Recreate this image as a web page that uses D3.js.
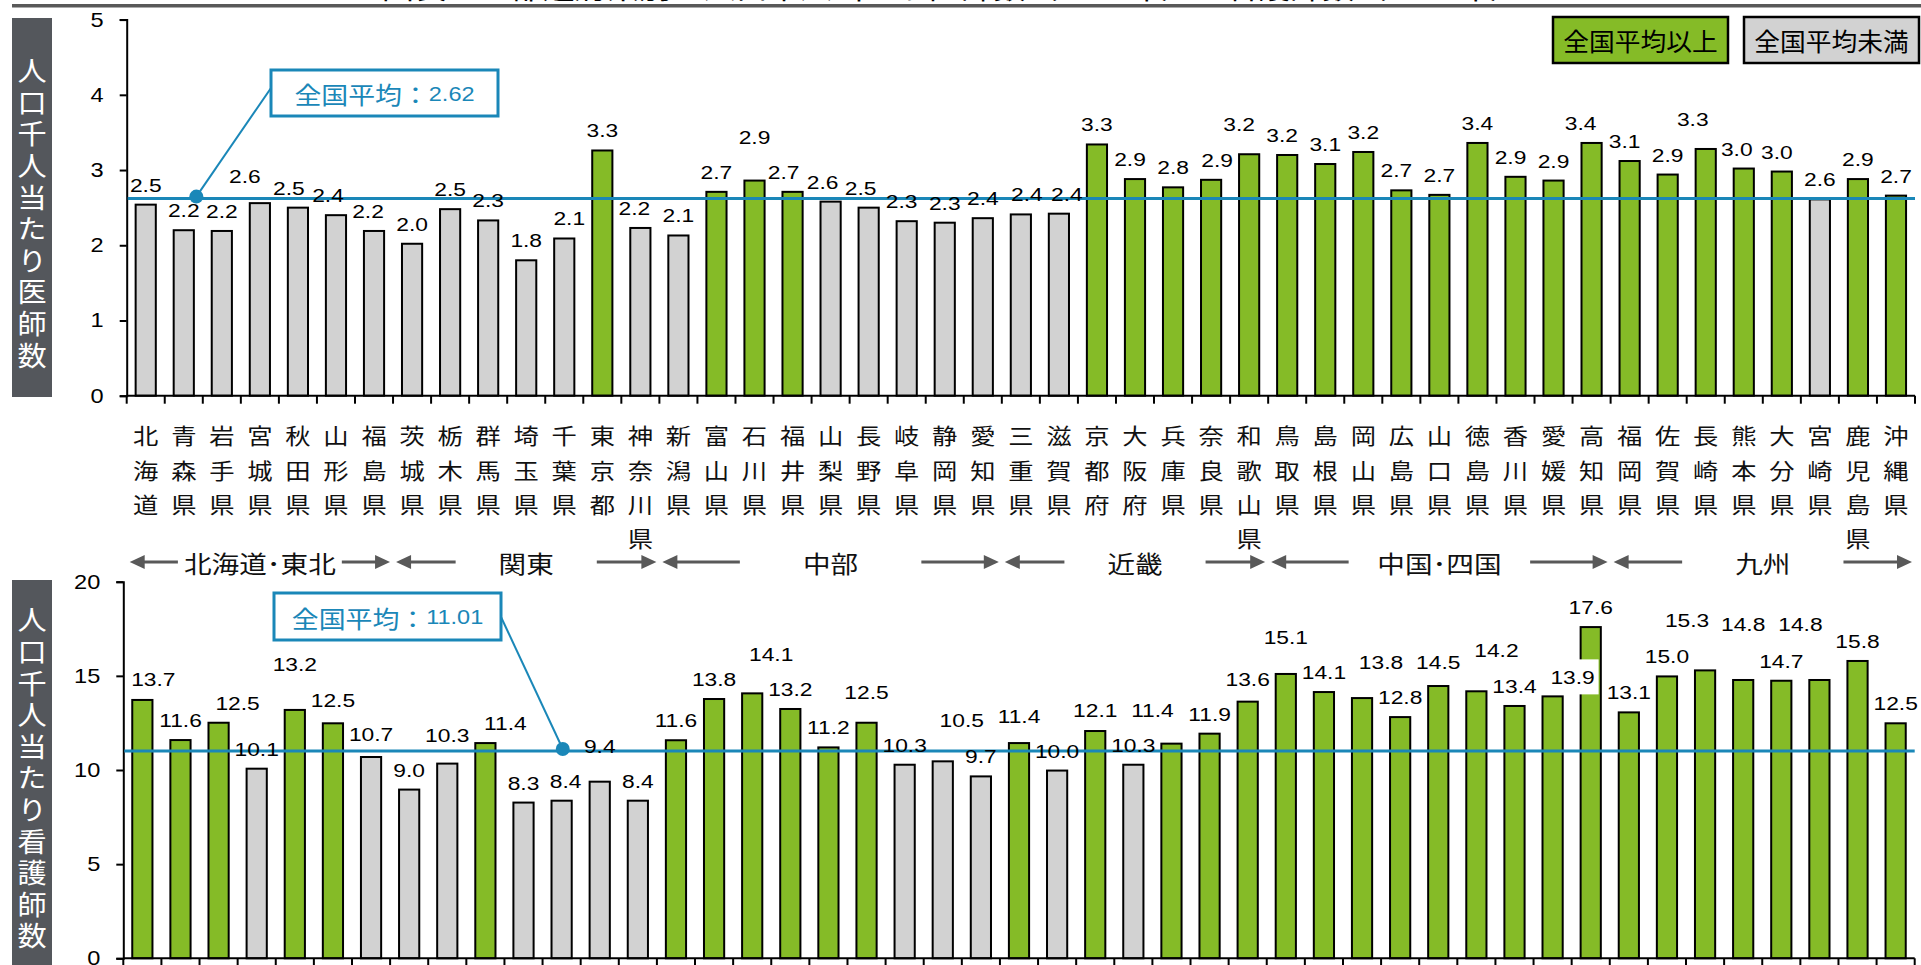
<!DOCTYPE html>
<html><head><meta charset="utf-8">
<script src="https://cdn.jsdelivr.net/npm/d3@7"></script>
<style>body{margin:0;background:#fff;} svg{display:block;}</style>
</head><body>
<script>
// ---------------- data ----------------
const prefectures = ["北海道","青森県","岩手県","宮城県","秋田県","山形県","福島県","茨城県","栃木県","群馬県","埼玉県","千葉県","東京都","神奈川県","新潟県","富山県","石川県","福井県","山梨県","長野県","岐阜県","静岡県","愛知県","三重県","滋賀県","京都府","大阪府","兵庫県","奈良県","和歌山県","鳥取県","島根県","岡山県","広島県","山口県","徳島県","香川県","愛媛県","高知県","福岡県","佐賀県","長崎県","熊本県","大分県","宮崎県","鹿児島県","沖縄県"];
const doctorValues = [2.54,2.20,2.19,2.56,2.50,2.40,2.19,2.02,2.48,2.33,1.80,2.09,3.26,2.23,2.13,2.71,2.86,2.71,2.58,2.50,2.32,2.30,2.36,2.41,2.42,3.34,2.88,2.77,2.87,3.21,3.20,3.08,3.24,2.73,2.67,3.36,2.91,2.86,3.36,3.12,2.94,3.28,3.02,2.98,2.61,2.88,2.66];
const nurseValues = [13.72,11.59,12.51,10.07,13.19,12.48,10.69,8.96,10.34,11.43,8.27,8.37,9.38,8.37,11.58,13.77,14.07,13.24,11.20,12.51,10.28,10.46,9.66,11.43,9.97,12.07,10.28,11.40,11.93,13.63,15.10,14.14,13.82,12.81,14.46,14.18,13.40,13.91,17.59,13.06,14.97,15.29,14.78,14.74,14.78,15.79,12.48];
const doctorAvg = 2.62;
const nurseAvg = 11.01;
const doctorTicks = [0,1,2,3,4,5];
const nurseTicks = [0,5,10,15,20];
const regionNames = ["北海道･東北","関東","中部","近畿","中国･四国","九州"];
const regionFirst = [0,7,14,23,30,39];
const regionLast = [6,13,22,29,38,46];
const legendLabels = ["全国平均以上","全国平均未満"];
const doctorTitle = "人口千人当たり医師数";
const nurseTitle = "人口千人当たり看護師数";
const avgPrefix = "全国平均：";
const pageTitle = "図表２　都道府県別の人口千人当たり医師数（2018年）と看護師数（2018年）";

// ---------------- layout / style ----------------
const W = 1921, H = 965;
const GREEN = "#85bb27", GRAY = "#d2d2d2", BLUE = "#1a87b8", DARK = "#595959";
const NUM_FONT = "'Liberation Sans', Arial, sans-serif";
const JP_FONT = "'Noto Sans CJK JP', 'Noto Sans', sans-serif";
// label nudges [dx, dy] (manual label placement in the original)
const doctorLabelNudge = {"宮城県":[-15,-7],"秋田県":[-9,0],"山形県":[-8,0],"福島県":[-6,0],"千葉県":[5,0],"神奈川県":[-6,0],"石川県":[0,-24],"福井県":[-9,0],"山梨県":[-8,0],"長野県":[-8,0],"岐阜県":[-5,0],"三重県":[6,0],"滋賀県":[8,0],"大阪府":[-5,0],"奈良県":[6,0],"和歌山県":[-10,-10],"鳥取県":[-5,0],"広島県":[-5,0],"香川県":[-5,0],"高知県":[-11,0],"福岡県":[-5,0],"長崎県":[-13,-10],"熊本県":[-7,0],"大分県":[-5,0]};
const nurseLabelNudge = {"北海道":[11,-1],"岩手県":[19,0],"秋田県":[0,-26],"山形県":[0,-3],"福島県":[0,-3],"栃木県":[0,-9],"群馬県":[20,0],"千葉県":[4,0],"東京都":[0,-16],"石川県":[19,-19],"長野県":[0,-11],"静岡県":[19,-21],"三重県":[0,-7],"京都府":[0,-1],"兵庫県":[-19,-14],"和歌山県":[0,-3],"鳥取県":[0,-17],"岡山県":[19,-16],"山口県":[0,-4],"徳島県":[20,-21],"愛媛県":[20,1],"長崎県":[-18,-30],"熊本県":[0,-36],"宮崎県":[-19,-36]};
const nurseLabelBg = {"愛媛県":true};

const svg = d3.select("body").append("svg").attr("width", W).attr("height", H)
  .style("font-family", NUM_FONT);

function stext(g, x, y, str, o) {
  o = o || {};
  return g.append("text")
    .attr("transform", `translate(${x},${y}) scale(${o.sx || 1},1)`)
    .attr("text-anchor", o.anchor || "middle")
    .attr("font-family", o.font || NUM_FONT)
    .attr("font-size", o.size || 19)
    .attr("fill", o.fill || "#000")
    .attr("dominant-baseline", o.baseline || "auto")
    .text(str);
}

// title strip (mostly cut off in the original)
stext(svg, 952, -1, pageTitle, {font: JP_FONT, size: 28, sx: 1.15});
svg.append("rect").attr("x", 12).attr("y", 4).attr("width", W - 12).attr("height", 3.5).attr("fill", DARK);

function panel(cfg) {
  const g = svg.append("g");
  const x = d3.scaleBand().domain(prefectures).range([cfg.x0, cfg.x1]).paddingInner(0.47).paddingOuter(0.235);
  const y = d3.scaleLinear().domain([0, cfg.ticks[cfg.ticks.length - 1]]).range([cfg.yBottom, cfg.yTop]);
  const step = x.step();
  const start = x.range()[0];

  // y title box with vertical text
  g.append("rect").attr("x", 12).attr("y", cfg.boxTop).attr("width", 40).attr("height", cfg.boxBottom - cfg.boxTop)
    .attr("fill", "#54575c");
  g.append("text")
    .attr("transform", `translate(32,${(cfg.boxTop + cfg.boxBottom) / 2 + 8}) scale(1.08,1)`)
    .attr("writing-mode", "vertical-rl")
    .attr("text-anchor", "middle")
    .attr("font-family", JP_FONT).attr("font-size", 27)
    .attr("letter-spacing", 4.6)
    .attr("fill", "#fff")
    .text(cfg.title);

  // bars
  g.selectAll("rect.bar").data(cfg.values).enter().append("rect").attr("class", "bar")
    .attr("x", (d, i) => x(prefectures[i]))
    .attr("width", x.bandwidth())
    .attr("y", d => y(d))
    .attr("height", d => y(0) - y(d))
    .attr("fill", d => d >= cfg.avg ? GREEN : GRAY)
    .attr("stroke", "#000").attr("stroke-width", 2);

  // y axis
  const ax = g.append("g").attr("transform", `translate(${cfg.x0},0)`)
    .call(d3.axisLeft(y).tickValues(cfg.ticks).tickSize(7).tickPadding(16).tickFormat(d3.format("d")));
  ax.select(".domain").attr("stroke", "#000").attr("stroke-width", 2);
  ax.selectAll(".tick line").attr("stroke", "#000").attr("stroke-width", 2);
  ax.selectAll(".tick text").attr("font-size", 20).attr("font-family", NUM_FONT).attr("fill", "#000")
    .attr("x", -23 / 1.18).attr("transform", "scale(1.18,1)");

  // x axis baseline + ticks at category boundaries
  g.append("line").attr("x1", cfg.x0).attr("x2", cfg.x1).attr("y1", y(0)).attr("y2", y(0))
    .attr("stroke", "#000").attr("stroke-width", 2);
  g.selectAll("line.xt").data(d3.range(prefectures.length + 1)).enter().append("line").attr("class", "xt")
    .attr("x1", i => start + i * step).attr("x2", i => start + i * step)
    .attr("y1", y(0)).attr("y2", y(0) + 8).attr("stroke", "#000").attr("stroke-width", 2);

  // average line
  g.append("line").attr("x1", cfg.x0 + 1).attr("x2", cfg.x1).attr("y1", y(cfg.avg)).attr("y2", y(cfg.avg))
    .attr("stroke", BLUE).attr("stroke-width", 3);

  // value labels
  cfg.values.forEach((v, i) => {
    const p = prefectures[i];
    const n = cfg.nudge[p] || [0, 0];
    const cx = x(p) + x.bandwidth() / 2 + n[0];
    const by = y(v) - 13 + n[1];
    if (cfg.bg && cfg.bg[p]) {
      g.append("rect").attr("x", cx - 26).attr("y", by - 25).attr("width", 52).attr("height", 35).attr("fill", "#fff");
    }
    stext(g, cx, by, v.toFixed(1), {size: 19, sx: 1.2});
  });

  // callout
  const dotX = start + cfg.dotPos * step, dotY = y(cfg.avg) - 2;
  g.append("line").attr("x1", cfg.leadX).attr("y1", cfg.leadY).attr("x2", dotX).attr("y2", dotY)
    .attr("stroke", BLUE).attr("stroke-width", 2);
  g.append("circle").attr("cx", dotX).attr("cy", dotY).attr("r", 7).attr("fill", BLUE);
  g.append("rect").attr("x", cfg.cb[0]).attr("y", cfg.cb[1]).attr("width", cfg.cb[2]).attr("height", cfg.cb[3])
    .attr("fill", "#fff").attr("stroke", BLUE).attr("stroke-width", 3);
  const t = g.append("text")
    .attr("transform", `translate(${cfg.cb[0] + cfg.cb[2] / 2},${cfg.cb[1] + cfg.cb[3] / 2}) scale(1.12,1)`)
    .attr("text-anchor", "middle").attr("dominant-baseline", "central").attr("fill", BLUE);
  t.append("tspan").attr("font-family", JP_FONT).attr("font-size", 24).text(avgPrefix);
  t.append("tspan").attr("font-family", NUM_FONT).attr("font-size", 21).text(cfg.avg.toFixed(2));

  return {x, y, step, start};
}

const topPanel = panel({x0: 126.7, x1: 1915, yTop: 19.6, yBottom: 395.7, ticks: doctorTicks, values: doctorValues,
  avg: doctorAvg, title: doctorTitle, boxTop: 18, boxBottom: 397, nudge: doctorLabelNudge,
  dotPos: 1.83, cb: [271, 70, 227, 46], leadX: 271, leadY: 88});

const bottomPanel = panel({x0: 123.3, x1: 1914.7, yTop: 581.7, yBottom: 958.3, ticks: nurseTicks, values: nurseValues,
  avg: nurseAvg, title: nurseTitle, boxTop: 580, boxBottom: 965, nudge: nurseLabelNudge, bg: nurseLabelBg,
  dotPos: 11.53, cb: [274, 593, 227, 47], leadX: 501, leadY: 617});

// category labels (vertical, under top chart)
const catG = svg.append("g");
prefectures.forEach(p => {
  const cx = topPanel.x(p) + topPanel.x.bandwidth() / 2;
  p.split("").forEach((c, j) => stext(catG, cx, 435 + 34.3 * j, c, {font: JP_FONT, size: 22, sx: 1.15, baseline: "central", fill: "#111"}));
});

// region labels with arrows
const regG = svg.append("g");
const ry = 562;
function arrow(x1, x2) { // x2 is the tip
  const dir = Math.sign(x2 - x1);
  regG.append("line").attr("x1", x1).attr("x2", x2 - dir * 12).attr("y1", ry).attr("y2", ry)
    .attr("stroke", DARK).attr("stroke-width", 3);
  regG.append("path").attr("d", `M${x2},${ry} L${x2 - dir * 15},${ry - 7} L${x2 - dir * 15},${ry + 7} Z`).attr("fill", DARK);
}
regionNames.forEach((name, k) => {
  const left = topPanel.start + regionFirst[k] * topPanel.step;
  const right = topPanel.start + (regionLast[k] + 1) * topPanel.step;
  const cx = (left + right) / 2;
  const txt = stext(regG, cx, ry, name, {font: JP_FONT, size: 24, sx: 1.15, baseline: "central", fill: "#111"});
  const tw = txt.node().getBBox().width * 1.15;
  const w = right - left;
  const len = Math.min(w * 0.235, (w - tw) / 2 - 6);
  arrow(left + len, left + 3);
  arrow(right - len, right - 3);
});

// legend
const legG = svg.append("g");
[[1553, GREEN], [1744, GRAY]].forEach((s, i) => {
  legG.append("rect").attr("x", s[0]).attr("y", 17).attr("width", 175).attr("height", 46)
    .attr("fill", s[1]).attr("stroke", "#000").attr("stroke-width", 2.5);
  stext(legG, s[0] + 87.5, 40, legendLabels[i], {font: JP_FONT, size: 25, sx: 1.03, baseline: "central"});
});
</script>
</body></html>
